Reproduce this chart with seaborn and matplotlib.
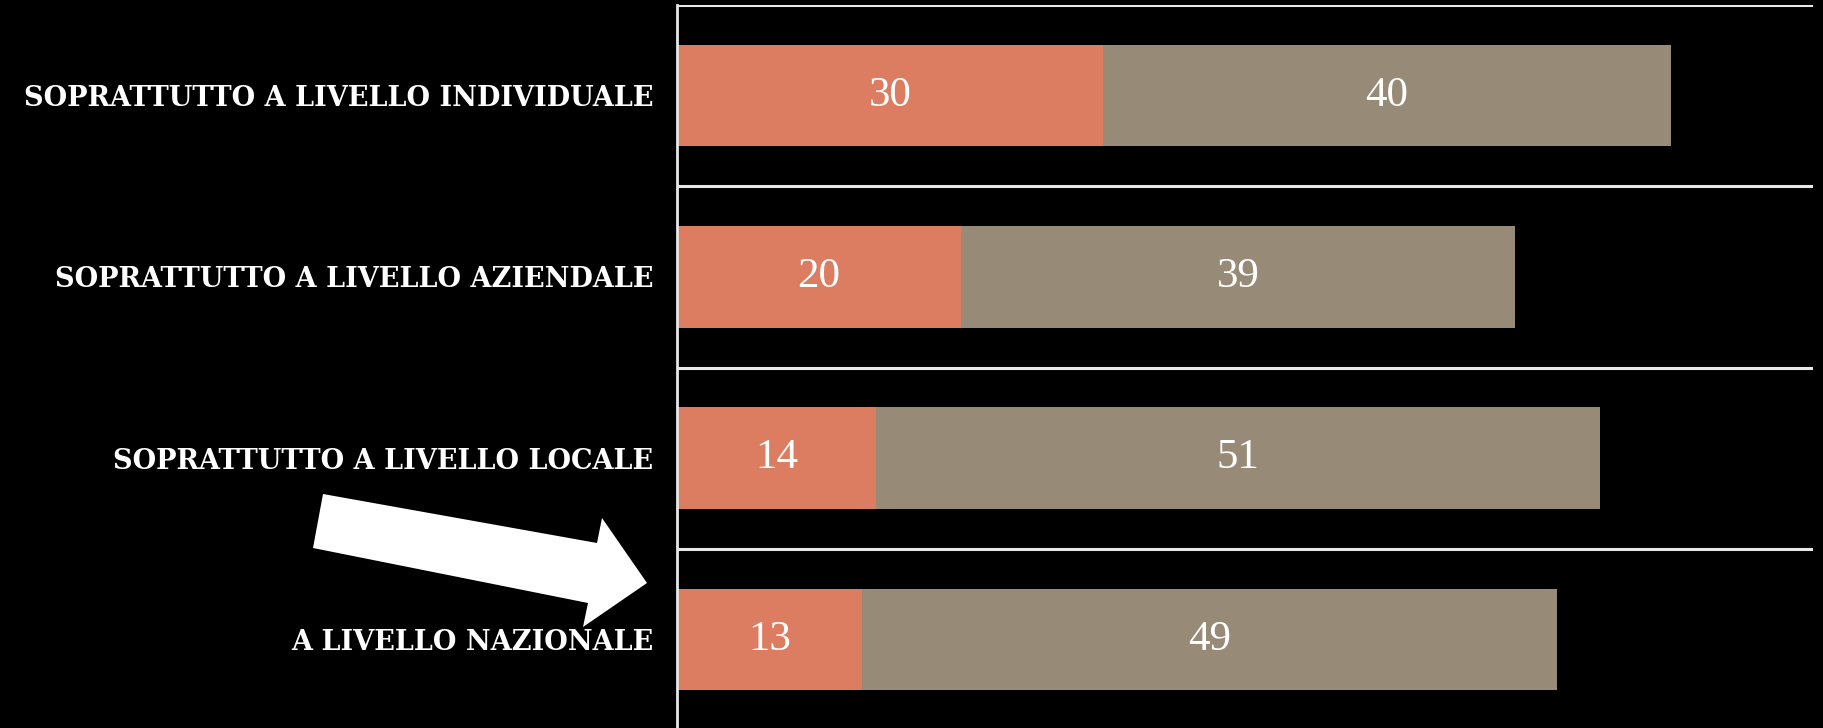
import matplotlib
matplotlib.use("Agg")
import matplotlib.pyplot as plt
import seaborn as sns
import pandas as pd
from matplotlib.patches import Polygon

categories = ["SOPRATTUTTO A LIVELLO INDIVIDUALE",
              "SOPRATTUTTO A LIVELLO AZIENDALE",
              "SOPRATTUTTO A LIVELLO LOCALE",
              "A LIVELLO NAZIONALE"]
orange_vals = [30, 20, 14, 13]
gray_vals = [40, 39, 51, 49]

ORANGE = "#DC7D62"
GRAY = "#978A76"

sns.set_theme(style="white")
plt.rcParams["font.family"] = ["DejaVu Serif"]

df = pd.DataFrame({"cat": categories, "o": orange_vals, "g": gray_vals})
df["total"] = df["o"] + df["g"]

fig = plt.figure(figsize=(18.23, 7.28), dpi=100, facecolor="black")
ax = fig.add_axes([677 / 1823, -2 / 728, (1813 - 677) / 1823, 725 / 728])
ax.set_facecolor("black")

sns.barplot(data=df, y="cat", x="total", color=GRAY, width=0.56,
            linewidth=0, saturation=1, ax=ax, orient="h")
sns.barplot(data=df, y="cat", x="o", color=ORANGE, width=0.56,
            linewidth=0, saturation=1, ax=ax, orient="h")

ax.set_xlim(0, 80)
ax.set_ylim(3.5, -0.5)
ax.set_xlabel("")
ax.set_ylabel("")
ax.set_xticks([])

# category separator lines
for b in [-0.5, 0.5, 1.5, 2.5]:
    ax.axhline(b, color="#e8e8e8", lw=2.2, zorder=0)

for s in ["right", "bottom", "top"]:
    ax.spines[s].set_visible(False)
ax.spines["left"].set_color("#e8e8e8")
ax.spines["left"].set_linewidth(2)

ax.tick_params(axis="y", length=0, pad=17)
for lbl in ax.get_yticklabels():
    lbl.set_color("white")
    lbl.set_fontweight("bold")
    lbl.set_fontsize(19.5)
    lbl.set_family("DejaVu Serif")

for i, (o, g) in enumerate(zip(orange_vals, gray_vals)):
    ax.text(o / 2, i, str(o), ha="center", va="center", color="white",
            fontsize=31, family="Liberation Serif")
    ax.text(o + g / 2, i, str(g), ha="center", va="center", color="white",
            fontsize=31, family="Liberation Serif")

# white arrow decoration (figure pixel coords -> fraction)
pts_px = [(323, 494), (597, 543), (602, 518), (647, 583),
          (583, 627), (588, 603), (313, 548)]
pts = [(x / 1823, 1 - y / 728) for x, y in pts_px]
fig.patches.append(Polygon(pts, closed=True, facecolor="white",
                           edgecolor="none", transform=fig.transFigure,
                           zorder=5))

fig.savefig("out.png", dpi=100, facecolor="black")
